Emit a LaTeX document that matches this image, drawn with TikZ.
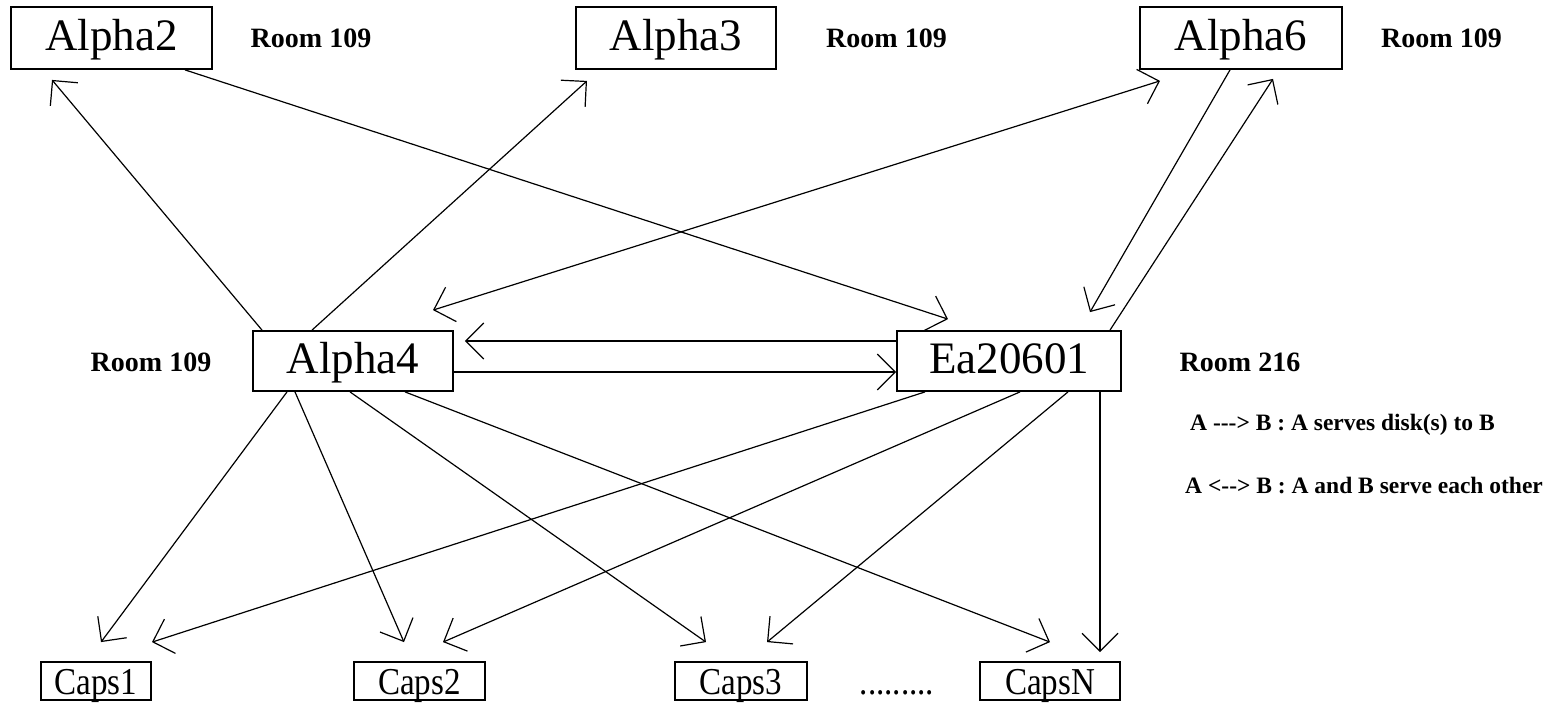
\documentclass[tikz,border=0pt]{standalone}
\usepackage{fontspec}
\setmainfont{Liberation Serif}
\newfontfamily\capsfont[FakeStretch=0.87]{Liberation Serif}
\usetikzlibrary{arrows.meta,calc}
\tikzset{
	host/.style={draw, line width=1.8pt, inner sep=0pt, text height=31pt, text depth=7pt, font=\fontsize{45}{45}\selectfont},
	capsbox/.style={draw, line width=1.8pt, inner sep=0pt, minimum height=38pt, text height=26pt, text depth=0pt, font=\capsfont\fontsize{38}{38}\selectfont},
	room/.style={font=\bfseries\fontsize{28}{28}\selectfont},
	legend/.style={inner sep=0pt, anchor=west, font=\bfseries\fontsize{23.5}{23.5}\selectfont},
	serve/.style={line width=1.2pt, -{Straight Barb[length=18pt,width=36pt]}},
	both/.style={line width=1.2pt, {Straight Barb[length=18pt,width=36pt]}-{Straight Barb[length=18pt,width=36pt]}},
}
\begin{document}
\begin{tikzpicture}[x=1pt,y=-1pt]
	            \useasboundingbox (0,0) rectangle (1549,704);
	            \node[host, minimum width=201pt, minimum height=62pt] at (111.5,38) (a2) {Alpha2};
	            \node[host, minimum width=200pt, minimum height=62pt] at (676,38) (a3) {Alpha3};
	            \node[host, minimum width=202pt, minimum height=62pt] at (1241,38) (a6) {Alpha6};
	            \node[host, minimum width=200pt, minimum height=60pt] at (353,361) (a4) {Alpha4};
	            \node[host, minimum width=224pt, minimum height=60pt] at (1009,361) (ea) {Ea20601};
	            \node[capsbox, minimum width=110pt] at (96,681) (c1) {Caps1};
	            \node[capsbox, minimum width=131pt] at (419.5,681) (c2) {Caps2};
	            \node[capsbox, minimum width=132pt] at (741,681) (c3) {Caps3};
	            \node[capsbox, minimum width=140pt] at (1050,681) (cn) {CapsN};
	            \node[font=\capsfont\fontsize{38}{38}\selectfont, anchor=base] at (897,694) (dots) {.........};
	            \node[room] at (311,38) (r2) {Room 109};
	            \node[room] at (886.5,38) (r3) {Room 109};
	            \node[room] at (1441.5,38) (r6) {Room 109};
	            \node[room] at (151,362) (r4) {Room 109};
	            \node[room] at (1240,362) (rea) {Room 216};
	            \node[legend] at (1190,425) (l1) {A {-}{-}{-}> B : A serves disk(s) to B};
	            \node[legend] at (1185,486) (l2) {A <{-}{-}> B : A and B serve each other};
	            \draw[serve] ($(a4.north)+(-91,0)$) -- ($(a2.south)+(-59.5,10)$);
	            \draw[serve] ($(a4.north)+(-41,0)$) -- ($(a3.south)+(-89,11)$);
	            \draw[serve] ($(a2.south)+(73.5,0)$) -- ($(ea.north)+(-61,-11)$);
	            \draw[both] ($(a4.north)+(80,-20)$) -- ($(a6.south)+(-81,11)$);
	            \draw[serve] ($(a6.south)+(-11,0)$) -- ($(ea.north)+(81,-18)$);
	            \draw[serve] ($(ea.north)+(101,0)$) -- ($(a6.south)+(32,9)$);
	            \draw[serve] ($(ea.west)+(0,-20)$) -- ($(a4.east)+(11,-20)$);
	            \draw[serve] ($(a4.east)+(0,11)$) -- ($(ea.west)+(0,11)$);
	            \draw[serve] ($(a4.south)+(-66,0)$) -- ($(c1.north)+(5,-19)$);
	            \draw[serve] ($(a4.south)+(-58,0)$) -- ($(c2.north)+(-15.5,-19)$);
	            \draw[serve] ($(a4.south)+(-3,0)$) -- ($(c3.north)+(-35,-19)$);
	            \draw[serve] ($(a4.south)+(52,0)$) -- ($(cn.north)+(0,-19)$);
	            \draw[serve] ($(ea.south)+(-84,0)$) -- ($(c1.north)+(56,-19)$);
	            \draw[serve] ($(ea.south)+(11,0)$) -- ($(c2.north)+(23.5,-19)$);
	            \draw[serve] ($(ea.south)+(59,0)$) -- ($(c3.north)+(26,-19)$);
	            \draw[serve] ($(ea.south)+(91,0)$) -- ($(cn.north)+(50,-9)$);
            \end{tikzpicture}
\end{document}
